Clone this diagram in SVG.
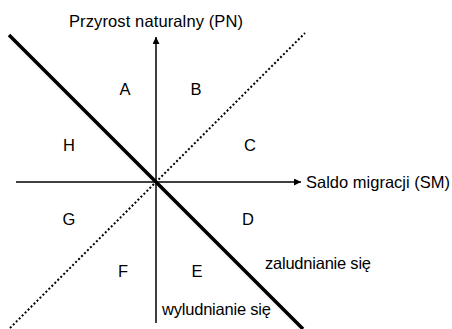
<svg xmlns="http://www.w3.org/2000/svg" width="452" height="329" viewBox="0 0 452 329">
<style>
text{font-family:"Liberation Sans",Arial,sans-serif;font-size:16.5px;fill:#000}
.axis{stroke:#000;stroke-width:1.5;fill:none}
.thick{stroke:#000;stroke-width:3.5;fill:none}
.dot{stroke:#000;stroke-width:2;stroke-dasharray:2 2.2;fill:none}
</style>
<defs>
<marker id="ah" viewBox="0 0 10 10" refX="10" refY="5" markerWidth="7" markerHeight="7" markerUnits="userSpaceOnUse" orient="auto">
<path d="M0,0 L10,5 L0,10 z" fill="#000"/>
</marker>
</defs>
<g id="connectors">
<line class="axis" x1="156" y1="323" x2="156" y2="37" marker-end="url(#ah)"/>
<line class="axis" x1="16" y1="182" x2="301" y2="182" marker-end="url(#ah)"/>
<line class="thick" x1="9" y1="35" x2="303" y2="329"/>
<line class="dot" x1="10" y1="328" x2="305" y2="33"/>
</g>
<g id="label-pn"><text x="69" y="27" textLength="174">Przyrost naturalny (PN)</text></g>
<g id="label-sm"><text x="306" y="188" textLength="144">Saldo migracji (SM)</text></g>
<g id="A"><text x="125" y="95" text-anchor="middle">A</text></g>
<g id="B"><text x="196" y="95" text-anchor="middle">B</text></g>
<g id="H"><text x="69" y="151" text-anchor="middle">H</text></g>
<g id="C"><text x="250" y="151" text-anchor="middle">C</text></g>
<g id="G"><text x="69" y="225" text-anchor="middle">G</text></g>
<g id="D"><text x="248" y="225" text-anchor="middle">D</text></g>
<g id="F"><text x="123" y="277" text-anchor="middle">F</text></g>
<g id="E"><text x="197" y="277" text-anchor="middle">E</text></g>
<g id="label-zal"><text x="265" y="269" textLength="106">zaludnianie się</text></g>
<g id="label-wyl"><text x="162" y="315" textLength="109">wyludnianie się</text></g>
</svg>
